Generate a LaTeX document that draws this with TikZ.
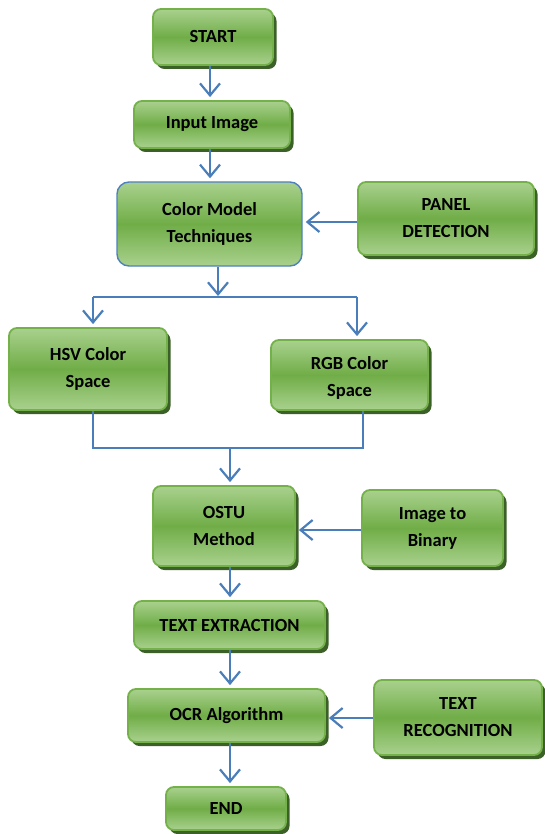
\documentclass[tikz,border=0pt]{standalone}
\usepackage{fontspec}
\setmainfont{Carlito}
\usetikzlibrary{arrows.meta,shadows,calc}
\definecolor{glight}{HTML}{A9D18E}
\definecolor{gmid}{HTML}{70AD47}
\definecolor{gborder}{HTML}{74B14A}
\definecolor{gshadow}{HTML}{3C6128}
\definecolor{barrow}{HTML}{4A7EBB}
\definecolor{bborder}{HTML}{4F81BD}
\tikzset{
  gbox/.style={rounded corners=8pt, draw=gborder, line width=1.8pt,
    top color=glight, bottom color=glight, middle color=gmid,
    general shadow={fill=gshadow, shadow xshift=3.5pt, shadow yshift=-4pt},
    align=center, font=\fontsize{18.5}{27}\selectfont\bfseries, inner sep=0pt},
  bbox/.style={rounded corners=12pt, draw=bborder, line width=1.4pt,
    top color=glight, bottom color=glight, middle color=gmid,
    align=center, font=\fontsize{18.5}{27}\selectfont\bfseries, inner sep=0pt},
  conn/.style={draw=barrow, line width=2.2pt},
  arr/.style={conn, -{Straight Barb[length=12pt,width=20pt,line width=2.2pt]}, shorten >=3pt},
}
\begin{document}
\begin{tikzpicture}[x=1pt,y=-1pt]
\useasboundingbox (0,0) rectangle (545,834);
\node[gbox, minimum width=120pt, minimum height=56pt] (start) at (213,37) {START};
\node[gbox, minimum width=156pt, minimum height=47pt] (input) at (212,124.5) {Input Image};
\node[bbox, minimum width=185pt, minimum height=84pt] (color) at (209.5,224) {Color Model\\Techniques};
\node[gbox, minimum width=176pt, minimum height=73pt] (panel) at (446,218.5) {PANEL\\DETECTION};
\node[gbox, minimum width=158pt, minimum height=82pt] (hsv) at (88,369) {HSV Color\\Space};
\node[gbox, minimum width=157pt, minimum height=70pt, text depth=0pt] (rgb) at (349.5,375) {\raisebox{-4pt}{RGB Color}\\\raisebox{-4pt}{Space}};
\node[gbox, minimum width=142pt, minimum height=80pt] (ostu) at (224,526) {OSTU\\Method};
\node[gbox, minimum width=141pt, minimum height=76pt] (binary) at (432.5,528) {\raisebox{-2pt}{Image to}\\\raisebox{-2pt}{Binary}};
\node[gbox, minimum width=191pt, minimum height=48pt] (textex) at (229.5,625) {TEXT EXTRACTION};
\node[gbox, minimum width=197pt, minimum height=53pt] (ocr) at (226.5,715.5) {OCR Algorithm};
\node[gbox, minimum width=168pt, minimum height=75pt] (textrec) at (458,717.5) {TEXT\\RECOGNITION};
\node[gbox, minimum width=120pt, minimum height=43pt] (end) at (226,808.5) {END};

\coordinate (c1) at (210,0);
\coordinate (br) at (218,297);
\coordinate (bl) at (93,297);
\coordinate (bR) at (357,297);
\coordinate (ml) at (93,448);
\coordinate (mr) at (363,448);
\coordinate (mm) at (230,448);
\coordinate (c2) at (230,0);

\draw[arr] (start.south -| c1) -- (input.north -| c1);
\draw[arr] (input.south -| c1) -- (color.north -| c1);
\draw[arr] (panel.west |- 0,222) -- (color.east |- 0,222);
\draw[arr, shorten >=1pt] (color.south -| br) -- (br);
\draw[conn] (bl) -- (bR);
\draw[arr] (bl) -- (bl |- hsv.north);
\draw[arr] (bR) -- (bR |- rgb.north);
\draw[conn] (hsv.south -| ml) -- (ml) -- (mr) -- (rgb.south -| mr);
\draw[arr] (mm) -- (ostu.north -| mm);
\draw[arr] (binary.west |- 0,530) -- (ostu.east |- 0,530);
\draw[arr] (ostu.south -| c2) -- (textex.north -| c2);
\draw[arr] (textex.south -| c2) -- (ocr.north -| c2);
\draw[arr] (textrec.west |- 0,718) -- (ocr.east |- 0,718);
\draw[arr] (ocr.south -| c2) -- (end.north -| c2);
\end{tikzpicture}
\end{document}
